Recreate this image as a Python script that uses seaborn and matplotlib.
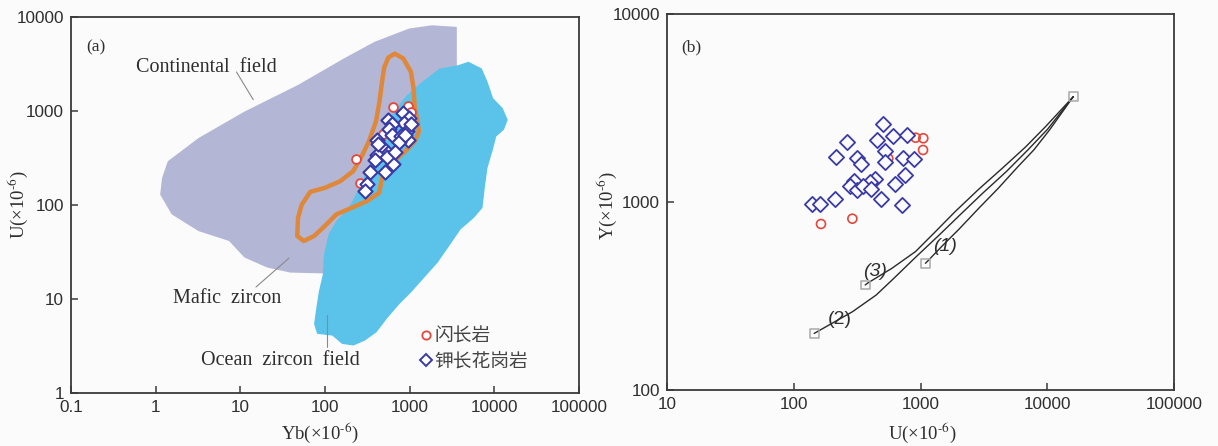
import matplotlib
matplotlib.use("Agg")
import matplotlib.pyplot as plt
import seaborn as sns
import pandas as pd
from matplotlib.lines import Line2D
from matplotlib.ticker import FixedLocator, FixedFormatter, NullLocator

# ---------------- panel (a): Yb - U ----------------
continental_yb = [3606, 1832, 982, 385, 167, 48.0, 11.2, 3.20, 1.39, 1.19, 1.13, 1.55,
                  3.20, 7.36, 11.2, 20.8, 38.9, 99.3, 473, 3606]
continental_u = [7852, 8166, 7534, 5445, 3622, 1892, 986, 515, 292, 194, 129, 79.4,
                 52.8, 41.4, 27.6, 21.6, 19.1, 18.7, 48.8, 1259]

ocean_yb = [3802, 4932, 7096, 8299, 9683, 12560, 14390, 12970, 10540, 9484, 8299, 7709,
            7244, 5754, 4000, 2931, 2143, 1489, 1033, 757, 553, 406, 296, 217, 159, 122,
            80.7, 74.3, 79.1, 84.9, 94.4, 97.3, 110, 136, 176, 214, 263, 339, 447, 537,
            708, 933, 1318, 2239]
ocean_u = [3083, 3342, 2838, 2051, 1368, 1072, 805, 631, 536, 372, 248, 152,
           93.3, 73.1, 55.1, 36.6, 24.4, 16.9, 11.7, 8.83, 6.38, 4.43, 3.61, 3.20, 3.33, 4.08,
           4.26, 5.42, 8.15, 12.2, 18.4, 29.9, 48.8, 67.5, 86.1, 112, 166, 275, 490, 741,
           1096, 1479, 1950, 2818]

sample_field_yb = [668, 839, 1033, 1112, 1148, 1233, 1285, 1148, 885, 718, 583, 473, 436,
                   313, 206, 136, 99.3, 74.3, 56.1, 47.0, 48.0, 53.2, 67.0, 99.3, 151, 215,
                   265, 330, 400, 440, 470, 500, 560]
sample_field_u = [4074, 3622, 2618, 1746, 1072, 805, 605, 475, 372, 316, 248, 194, 135,
                  110, 93.3, 79.4, 59.7, 46.8, 41.4, 46.8, 73.1, 101, 138, 152, 179, 229,
                  316, 475, 773, 1259, 2000, 2900, 3700]

diorite_yb = [638, 944, 1025, 486, 230, 258]
diorite_u = [1104, 1122, 976, 575, 307, 173]

granite_yb = [839, 987, 855, 557, 611, 573, 918, 611, 780, 960, 406, 453, 752, 557, 406,
              388, 639, 509, 339, 315, 296, 533, 1023, 669, 425, 878]
granite_u = [953, 851, 746, 797, 722, 650, 613, 552, 538, 497, 497, 422, 469, 358, 338,
             299, 276, 225, 225, 166, 141, 324, 735, 367, 450, 552]

# ---------------- panel (b): U - Y ----------------
diorite_u_b = [916, 1052, 1047, 557, 164, 290]
diorite_y_b = [2198, 2183, 1891, 1706, 764, 815]

granite_u_b = [510, 262, 452, 604, 787, 216, 314, 340, 525, 528, 731, 889, 755, 629, 437,
               400, 299, 278, 318, 350, 405, 212, 485, 719, 139, 160]
granite_y_b = [2600, 2080, 2150, 2245, 2270, 1730, 1706, 1585, 1875, 1625, 1706, 1686,
               1393, 1247, 1321, 1282, 1297, 1217, 1158, 1217, 1169, 1033, 1037, 964, 972, 972]

curve1_u = [1094, 1159, 1510, 2009, 2878, 4111, 5875, 7834, 10420, 16040]
curve1_y = [472, 491, 591, 716, 925, 1184, 1542, 1892, 2416, 3632]
curve2_u = [145, 291, 447, 617, 914, 1403, 2009, 3083, 4743, 7031, 10050, 16040]
curve2_y = [200, 261, 320, 393, 508, 667, 843, 1111, 1449, 1892, 2437, 3632]
curve3_u = [366, 387, 595, 914, 1310, 1870, 2878, 4415, 6775, 9706, 16040]
curve3_y = [362, 372, 444, 545, 695, 887, 1169, 1511, 1968, 2519, 3632]

endmember_u = [1094, 366, 145, 16040]
endmember_y = [472, 362, 200, 3632]

ticks_a_x = [0.1, 1, 10, 100, 1000, 10000, 100000]
labels_a_x = ["0.1", "1", "10", "100", "1000", "10000", "100000"]
ticks_a_y = [1, 10, 100, 1000, 10000]
labels_a_y = ["1", "10", "100", "1000", "10000"]
ticks_b_x = [10, 100, 1000, 10000, 100000]
labels_b_x = ["10", "100", "1000", "10000", "100000"]
ticks_b_y = [100, 1000, 10000]
labels_b_y = ["100", "1000", "10000"]

legend_labels = ["闪长岩", "钾长花岗岩"]

# ---------------- style ----------------
sns.set_style("ticks")
plt.rcParams["mathtext.fontset"] = "stix"
SANS = "Liberation Sans"
SERIF = "Liberation Serif"
CJK = ["Noto Sans CJK SC", "DejaVu Sans"]
BG = "#fbfbfb"
SPINE = "#3a3a3a"
TXT = "#2e2e2e"
RED = "#e5473d"
BLUE = "#3a3aa6"
UNIT = "(×10$^{\\text{-}6}$)"

fig = plt.figure(figsize=(12.18, 4.46), dpi=100, facecolor=BG)
ax1 = fig.add_axes([71 / 1218, 53 / 446, 508 / 1218, 376 / 446])
ax2 = fig.add_axes([667 / 1218, 56 / 446, 507 / 1218, 376 / 446])


def style_axes(ax, xt, xl, yt, yl, xlim, ylim):
    ax.set_facecolor(BG)
    ax.set_xscale("log")
    ax.set_yscale("log")
    ax.set_xlim(*xlim)
    ax.set_ylim(*ylim)
    ax.xaxis.set_major_locator(FixedLocator(xt))
    ax.xaxis.set_major_formatter(FixedFormatter(xl))
    ax.yaxis.set_major_locator(FixedLocator(yt))
    ax.yaxis.set_major_formatter(FixedFormatter(yl))
    ax.xaxis.set_minor_locator(NullLocator())
    ax.yaxis.set_minor_locator(NullLocator())
    for s in ax.spines.values():
        s.set_visible(True)
        s.set_color(SPINE)
        s.set_linewidth(1.3)
    ax.tick_params(axis="both", which="major", direction="in", length=5, width=1.1,
                   color=SPINE, labelcolor=TXT, labelsize=12.3, pad=5)
    for lab in ax.get_xticklabels() + ax.get_yticklabels():
        lab.set_fontfamily(SANS)


# ---- panel (a) ----
style_axes(ax1, ticks_a_x, labels_a_x, ticks_a_y, labels_a_y, (0.1, 100000), (1, 10000))
ax1.fill(continental_yb, continental_u, color="#b4b6d6", lw=0, zorder=1)
ax1.fill(ocean_yb, ocean_u, color="#5bc3ea", lw=0, zorder=2)
ax1.fill(sample_field_yb, sample_field_u, facecolor="none", edgecolor="#e0883a",
         lw=3.2, joinstyle="round", zorder=3)

df_dio_a = pd.DataFrame({"Yb": diorite_yb, "U": diorite_u})
df_gra_a = pd.DataFrame({"Yb": granite_yb, "U": granite_u})
sns.scatterplot(data=df_dio_a, x="Yb", y="U", ax=ax1, marker="o", s=40,
                color="white", edgecolor=RED, linewidth=1.3, zorder=4)
sns.scatterplot(data=df_gra_a, x="Yb", y="U", ax=ax1, marker="D", s=52,
                color="white", edgecolor=BLUE, linewidth=1.5, zorder=5)

ax1.text(0.049, 0.92, "(a)", transform=ax1.transAxes, fontsize=12.5, family=SERIF,
         color=TXT, ha="center", va="center")
ax1.text(4.0, 2900, "Continental  field", fontsize=14.5, family=SERIF, color=TXT,
         ha="center", va="center")
ax1.plot([9.0, 14.2], [2600, 1322], color="#8a8a8a", lw=0.8, zorder=6)
ax1.text(6.9, 10.2, "Mafic  zircon", fontsize=14.5, family=SERIF, color=TXT,
         ha="center", va="center")
ax1.plot([15.3, 37.5], [13.4, 27.2], color="#8a8a8a", lw=0.8, zorder=6)
ax1.text(30, 2.19, "Ocean  zircon  field", fontsize=14.5, family=SERIF, color=TXT,
         ha="center", va="center")
ax1.plot([105, 105], [3.08, 6.75], color="#8a8a8a", lw=0.8, zorder=6)

handles = [
    Line2D([], [], ls="none", marker="o", ms=6, mfc="white", mec=RED, mew=1.3),
    Line2D([], [], ls="none", marker="D", ms=6, mfc="white", mec=BLUE, mew=1.4),
]
leg = ax1.legend(handles, legend_labels, loc="upper left", bbox_to_anchor=(0.668, 0.205),
                 frameon=False, handlelength=0.7, handletextpad=0.1, borderpad=0,
                 labelspacing=0.25, prop={"family": CJK, "size": 13.5})
for t in leg.get_texts():
    t.set_color("#444444")

ax1.set_xlabel("Yb" + UNIT, fontsize=13.5, family=SERIF, color=TXT)
ax1.set_ylabel("U" + UNIT, fontsize=13.5, family=SERIF, color=TXT)
ax1.xaxis.set_label_coords(0.49, -0.106)
ax1.yaxis.set_label_coords(-0.106, 0.5)
ax1.xaxis.label.set_va("center")
ax1.yaxis.label.set_va("center")

# ---- panel (b) ----
style_axes(ax2, ticks_b_x, labels_b_x, ticks_b_y, labels_b_y, (10, 100000), (100, 10000))

for cu, cy in [(curve1_u, curve1_y), (curve2_u, curve2_y), (curve3_u, curve3_y)]:
    sns.lineplot(x=cu, y=cy, ax=ax2, sort=False, estimator=None, color="#2a2a2a",
                 lw=1.0, zorder=3)
sns.scatterplot(x=endmember_u, y=endmember_y, ax=ax2, marker="s", s=40,
                color="none", edgecolor="#a8a8a8", linewidth=1.1, zorder=4)

df_dio_b = pd.DataFrame({"U": diorite_u_b, "Y": diorite_y_b})
df_gra_b = pd.DataFrame({"U": granite_u_b, "Y": granite_y_b})
sns.scatterplot(data=df_dio_b, x="U", y="Y", ax=ax2, marker="o", s=42,
                color="none", edgecolor=RED, linewidth=1.2, zorder=4)
sns.scatterplot(data=df_gra_b, x="U", y="Y", ax=ax2, marker="D", s=60,
                color=BG, edgecolor=BLUE, linewidth=1.3, zorder=5)

ax2.text(0.048, 0.91, "(b)", transform=ax2.transAxes, fontsize=12.5, family=SERIF,
         color=TXT, ha="center", va="center")
ax2.text(1560, 577, "(1)", fontsize=14, family=SANS, style="italic", color=TXT,
         ha="center", va="center")
ax2.text(437, 425, "(3)", fontsize=14, family=SANS, style="italic", color=TXT,
         ha="center", va="center")
ax2.text(232, 236, "(2)", fontsize=14, family=SANS, color=TXT, ha="center", va="center")

ax2.set_xlabel("U" + UNIT, fontsize=13.5, family=SERIF, color=TXT)
ax2.set_ylabel("Y" + UNIT, fontsize=13.5, family=SERIF, color=TXT)
ax2.xaxis.set_label_coords(0.504, -0.114)
ax2.yaxis.set_label_coords(-0.12, 0.49)
ax2.xaxis.label.set_va("center")
ax2.yaxis.label.set_va("center")

fig.savefig("out.png", dpi=100, facecolor=BG)
